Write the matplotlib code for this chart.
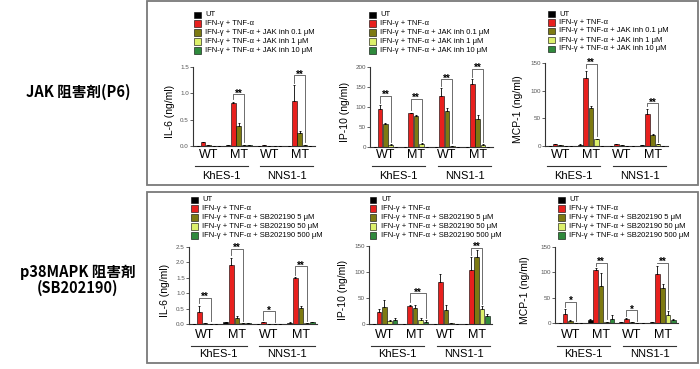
import numpy as np
import matplotlib
matplotlib.use('Agg')
import matplotlib.pyplot as plt
from matplotlib import transforms
from matplotlib.patches import Rectangle

plt.rcParams['font.family'] = ['Liberation Sans', 'DejaVu Sans']

W, H = 700, 369

groups = ['WT', 'MT', 'WT', 'MT']
cell_lines = ['KhES-1', 'NNS1-1']
colors = ['#000000', '#e8201e', '#7d7a12', '#dcf06a', '#2f8a3c']

jak_labels = ['UT', 'IFN-γ + TNF-α',
              'IFN-γ + TNF-α + JAK inh 0.1 μM',
              'IFN-γ + TNF-α + JAK inh 1 μM',
              'IFN-γ + TNF-α + JAK inh 10 μM']
p38_labels = ['UT', 'IFN-γ + TNF-α',
              'IFN-γ + TNF-α + SB202190 5 μM',
              'IFN-γ + TNF-α + SB202190 50 μM',
              'IFN-γ + TNF-α + SB202190 500 μM']

# rows = treatment (UT, IFN+TNF, low, mid, high), cols = WT/MT KhES-1, WT/MT NNS1-1
jak_il6 = [[0.0, 0.01, 0.0, 0.0],
           [0.07, 0.82, 0.02, 0.86],
           [0.02, 0.38, 0.005, 0.25],
           [0.0, 0.02, 0.0, 0.02],
           [0.0, 0.01, 0.0, 0.0]]
jak_il6_err = [[0, 0, 0, 0],
               [0.01, 0.02, 0.005, 0.30],
               [0.005, 0.06, 0, 0.04],
               [0, 0.005, 0, 0.005],
               [0, 0, 0, 0]]
jak_ip10 = [[0, 0, 0, 0],
            [95, 84, 127, 158],
            [57, 78, 91, 69],
            [6, 8, 3, 6],
            [0, 0, 0, 0]]
jak_ip10_err = [[0, 0, 0, 0],
                [9, 2, 20, 12],
                [4, 1, 6, 12],
                [1, 1, 0.5, 1],
                [0, 0, 0, 0]]
jak_mcp1 = [[0, 2.5, 0, 1],
            [4, 122, 4, 58],
            [1.5, 69, 1.5, 20],
            [0, 12, 0.5, 3],
            [0, 0, 0, 0]]
jak_mcp1_err = [[0, 0.5, 0, 0],
                [0.5, 14, 0.5, 9],
                [1, 4, 1, 2],
                [0, 1, 0, 0.5],
                [0, 0, 0, 0]]

p38_il6 = [[0.0, 0.05, 0.01, 0.04],
           [0.40, 1.93, 0.05, 1.50],
           [0.02, 0.20, 0.01, 0.52],
           [0.01, 0.02, 0.0, 0.02],
           [0.01, 0.02, 0.0, 0.05]]
p38_il6_err = [[0, 0.01, 0, 0.01],
               [0.2, 0.22, 0.01, 0.01],
               [0.01, 0.06, 0, 0.07],
               [0, 0, 0, 0],
               [0, 0, 0, 0.02]]
p38_ip10 = [[0, 0, 0, 0],
            [24, 34, 81, 104],
            [33, 31, 26, 128],
            [5, 8, 1, 29],
            [7, 4, 0, 15]]
p38_ip10_err = [[0, 0, 0, 0],
                [5, 3, 15, 25],
                [13, 5, 11, 15],
                [3, 3, 0, 5],
                [4, 3, 0, 5]]
p38_mcp1 = [[0, 5, 1, 2],
            [18, 104, 8, 96],
            [3, 74, 1, 69],
            [0, 2, 0, 16],
            [0, 8, 0, 5]]
p38_mcp1_err = [[0, 2, 0, 0.5],
                [10, 4, 2, 17],
                [2, 25, 0.5, 7],
                [0, 0.5, 0, 8],
                [0, 7, 0, 2]]

# significance: (group, from bar, to bar, bracket height, text)
jak_il6_sig = [(1, 1, 3, 0.98, '**'), (3, 1, 3, 1.34, '**')]
jak_ip10_sig = [(0, 1, 3, 127, '**'), (1, 1, 3, 120, '**'),
                (2, 1, 3, 169, '**'), (3, 1, 3, 195, '**')]
jak_mcp1_sig = [(1, 1, 3, 148, '**'), (3, 1, 3, 77, '**')]
p38_il6_sig = [(0, 1, 3, 0.85, '**'), (1, 1, 3, 2.43, '**'),
               (2, 1, 3, 0.41, '*'), (3, 1, 3, 1.87, '**')]
p38_ip10_sig = [(1, 1, 4, 59, '**'), (3, 1, 3, 146, '**')]
p38_mcp1_sig = [(0, 1, 3, 41, '*'), (1, 1, 3, 119, '**'),
                (2, 1, 3, 25, '*'), (3, 1, 3, 119, '**')]

fig = plt.figure(figsize=(W / 100, H / 100), dpi=100)


def fx(x):
    return x / W


def fy(y):
    return 1 - y / H


# frames around the two rows
for y0, y1 in [(1.5, 185), (192, 363)]:
    fig.patches.append(Rectangle((fx(147), fy(y1)), fx(698) - fx(147), fy(y0) - fy(y1),
                                 transform=fig.transFigure, fill=False,
                                 edgecolor='#7a7a7a', lw=1.3))

fig.text(fx(78), fy(92), 'JAK 阻害剤(P6)', family=['Noto Sans CJK JP', 'DejaVu Sans'],
         fontweight='bold', fontsize=10.5, ha='center', va='center')
fig.text(fx(78), fy(272), 'p38MAPK 阻害剤', family=['Noto Sans CJK JP', 'DejaVu Sans'],
         fontweight='bold', fontsize=10.5, ha='center', va='center')
fig.text(fx(78), fy(288), '(SB202190)', family=['Noto Sans CJK JP', 'DejaVu Sans'],
         fontweight='bold', fontsize=10.5, ha='center', va='center')


def draw_legend(x_sq, rows, labels):
    for y, lab, c in zip(rows, labels, colors):
        fig.patches.append(Rectangle((fx(x_sq), fy(y + 3.2)), 6.5 / W, 6.5 / H,
                                     transform=fig.transFigure, facecolor=c,
                                     edgecolor='black', lw=0.4))
        fig.text(fx(x_sq + 11), fy(y), lab, fontsize=5.5, ha='left', va='center')


def draw_panel(rect, means, errs, ymax, yticks, fmt, ylabel, ylab_x, sigs, text_y):
    x0, x1, yt, yb = rect
    ax = fig.add_axes([fx(x0), fy(yb), fx(x1) - fx(x0), fy(yt) - fy(yb)])
    means = np.array(means, dtype=float)
    errs = np.array(errs, dtype=float)
    xg = np.arange(len(groups))
    step, width = 0.175, 0.15
    for i in range(len(colors)):
        xs = xg + (i - 2) * step
        ax.bar(xs, means[i], width, color=colors[i], edgecolor='black', lw=0.4, zorder=2)
        ax.errorbar(xs, means[i], yerr=[np.zeros(4), errs[i]], fmt='none', ecolor='black',
                    elinewidth=0.6, capsize=1.0, capthick=0.6, zorder=3)
    for g, a, b, yl, txt in sigs:
        xa = g + (a - 2) * step
        xb = g + (b - 2) * step
        ya = means[a, g] + errs[a, g] + ymax * 0.03
        yb2 = means[b, g] + errs[b, g] + ymax * 0.03
        ax.plot([xa, xa, xb, xb], [min(ya, yl), yl, yl, min(yb2, yl)], color='#555555',
                lw=0.6, clip_on=False, zorder=4)
        ax.annotate(txt, ((xa + xb) / 2, yl), xytext=(0, -1.5), textcoords='offset points',
                    ha='center', va='baseline', fontsize=7, fontweight='bold',
                    annotation_clip=False)
    ax.set_xlim(-0.5, 3.5)
    ax.set_ylim(0, ymax)
    ax.set_yticks(yticks)
    ax.set_yticklabels([fmt.format(t) for t in yticks])
    ax.set_xticks([])
    for s in ['top', 'right']:
        ax.spines[s].set_visible(False)
    for s in ['left', 'bottom']:
        ax.spines[s].set_color('#333333')
        ax.spines[s].set_linewidth(0.8)
    ax.tick_params(axis='y', length=2, width=0.6, labelsize=4.5, pad=1,
                   color='#444444', labelcolor='#555555')
    fig.text(fx(ylab_x), fy((yt + yb) / 2 + 5), ylabel, rotation=90, fontsize=7.5,
             ha='center', va='center')
    # category labels under the axis
    trans = transforms.blended_transform_factory(ax.transData, fig.transFigure)
    ty_cat, ty_line, ty_cell = text_y
    for g, lab in enumerate(groups):
        ax.text(g, fy(ty_cat), lab, transform=trans, ha='center', va='center', fontsize=9)
    for (a, b), lab in zip([(-0.45, 1.3), (1.7, 3.45)], cell_lines):
        ax.plot([a, b], [fy(ty_line)] * 2, transform=trans, color='#333333', lw=0.8,
                clip_on=False)
        ax.text((a + b) / 2, fy(ty_cell), lab, transform=trans, ha='center', va='center',
                fontsize=8)
    return ax


top_rows = [15, 23.5, 32.5, 41.5, 50.5]
bot_rows = [200, 208.5, 217.5, 226.5, 235.5]

draw_legend(194, top_rows, jak_labels)
draw_legend(369, top_rows, jak_labels)
draw_legend(548, [14, 22.5, 31, 40, 49], jak_labels)
draw_legend(191, bot_rows, p38_labels)
draw_legend(370, bot_rows, p38_labels)
draw_legend(558, bot_rows, p38_labels)

top_text = (155, 166, 176)
bot_text = (335, 346, 354)

draw_panel((193, 315, 67, 146), jak_il6, jak_il6_err, 1.5, [0, 0.5, 1.0, 1.5], '{:.1f}',
           'IL-6 (ng/ml)', 170, jak_il6_sig, top_text)
draw_panel((370, 493, 67, 147), jak_ip10, jak_ip10_err, 200, [0, 50, 100, 150, 200], '{:.0f}',
           'IP-10 (ng/ml)', 345, jak_ip10_sig, top_text)
draw_panel((545, 668, 63, 146), jak_mcp1, jak_mcp1_err, 150, [0, 50, 100, 150], '{:.0f}',
           'MCP-1 (ng/ml)', 518, jak_mcp1_sig, top_text)
draw_panel((189, 317, 247, 324), p38_il6, p38_il6_err, 2.5, [0, 0.5, 1.0, 1.5, 2.0, 2.5], '{:.1f}',
           'IL-6 (ng/ml)', 165, p38_il6_sig, bot_text)
draw_panel((369, 492, 246, 324), p38_ip10, p38_ip10_err, 150, [0, 50, 100, 150], '{:.0f}',
           'IP-10 (ng/ml)', 343, p38_ip10_sig, bot_text)
draw_panel((555, 678, 247, 323), p38_mcp1, p38_mcp1_err, 150, [0, 50, 100, 150], '{:.0f}',
           'MCP-1 (ng/ml)', 525, p38_mcp1_sig, bot_text)

fig.savefig('out.png', dpi=100)
